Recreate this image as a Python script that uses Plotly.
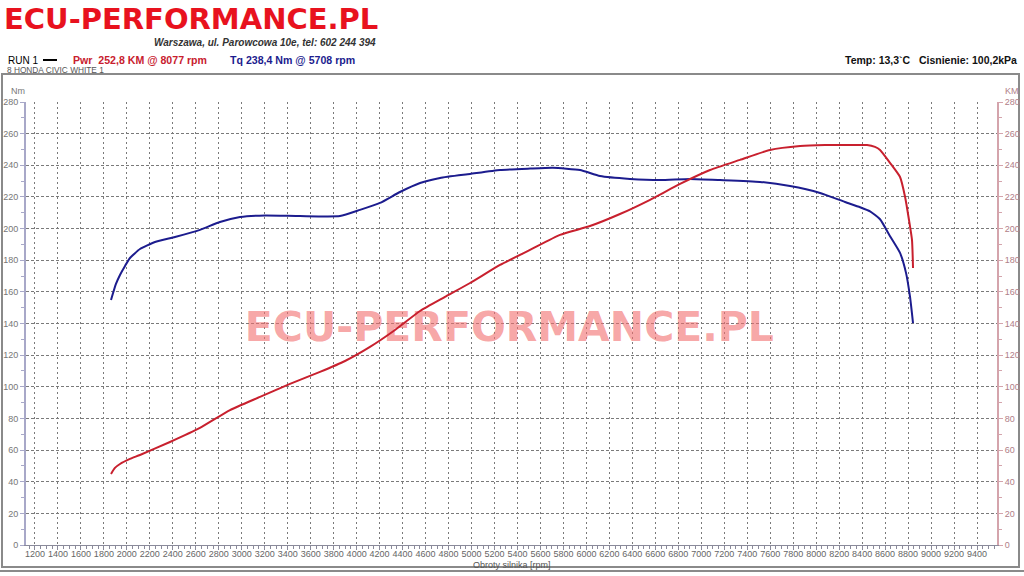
import plotly.graph_objects as go

# ---------------- data ----------------
tq_rpm = [1862, 1905, 1940, 1984, 2027, 2114, 2245, 2419, 2636, 2810, 2985, 3202, 3507, 3855,
          4029, 4203, 4377, 4552, 4726, 4987, 5248, 5509, 5708, 5944, 6118, 6379, 6641, 6902,
          7163, 7511, 7772, 8034, 8251, 8382, 8469, 8556, 8643, 8730, 8782, 8817, 8843]
tq_nm = [154.9, 165.0, 170.7, 176.4, 181.4, 187.1, 191.5, 194.7, 199.2, 204.2, 207.3, 208.3, 207.9, 207.9,
         211.8, 216.2, 223.1, 228.8, 232.0, 234.5, 237.0, 237.9, 238.4, 237.0, 233.2, 231.4, 230.7, 231.4,
         230.7, 229.5, 226.9, 222.5, 216.8, 213.5, 210.9, 205.9, 195.2, 184.6, 172.0, 156.8, 140.3]

pwr_rpm = [1862, 1896, 1940, 2027, 2114, 2375, 2636, 2898, 3159, 3420, 3681, 3899, 4116, 4334,
           4552, 4769, 4987, 5248, 5509, 5770, 6031, 6292, 6554, 6815, 7076, 7337, 7598, 7860,
           8077, 8208, 8443, 8512, 8556, 8643, 8730, 8774, 8808, 8834, 8843]
pwr_km = [44.9, 48.7, 51.2, 54.4, 56.9, 65.1, 74.0, 85.3, 93.6, 101.8, 109.4, 116.3, 125.2, 135.9,
          147.9, 156.8, 165.6, 177.0, 186.5, 196.0, 201.6, 209.2, 218.2, 228.2, 237.0, 243.4, 249.7, 252.2,
          252.8, 252.8, 252.8, 251.6, 249.7, 241.5, 232.6, 220.0, 205.4, 192.8, 175.1]

x_ticks = list(range(1200, 9401, 200))
y_ticks = list(range(0, 281, 20))

logo_text = "ECU-PERFORMANCE.PL"
address_text = "Warszawa, ul. Parowcowa 10e, tel: 602 244 394"
run_text = "RUN 1"
pwr_text = "Pwr  252,8 KM @ 8077 rpm"
tq_text = "Tq 238,4 Nm @ 5708 rpm"
car_text = "8 HONDA CIVIC WHITE 1"
cond_text = "Temp: 13,3`C   Cisnienie: 100,2kPa"
x_title = "Obroty silnika [rpm]"

# ---------------- layout geometry ----------------
W, H = 1024, 576
L, R, T, B = 26, 997, 102, 545


def px(x):
    return (x - L) / (R - L)


def py(y):
    return (B - y) / (B - T)


BLUE = "#1c1c8e"
RED = "#c8202e"
NARROW = "Liberation Sans Narrow, Liberation Sans"

fig = go.Figure()

# watermark (drawn first so curves go over it)
fig.add_trace(go.Scatter(
    x=[5330], y=[135.5], mode="text", text=[logo_text],
    textfont=dict(family="DejaVu Sans", size=41, color="rgba(242,110,110,0.62)", weight="bold"),
    hoverinfo="skip", showlegend=False))

fig.add_trace(go.Scatter(
    x=tq_rpm, y=tq_nm, mode="lines", line=dict(color=BLUE, width=2, shape="spline", smoothing=0.5),
    showlegend=False, name="Tq"))
fig.add_trace(go.Scatter(
    x=pwr_rpm, y=pwr_km, mode="lines", line=dict(color=RED, width=2, shape="spline", smoothing=0.5),
    showlegend=False, name="Pwr", yaxis="y2"))

grid_col = "#7a7a7a"
fig.update_layout(
    width=W, height=H, autosize=False,
    margin=dict(l=L, r=W - R, t=T, b=H - B, pad=0, autoexpand=False),
    paper_bgcolor="white", plot_bgcolor="white",
    font=dict(family="Liberation Sans", size=10, color="#666"),
    xaxis=dict(
        range=[1122, 9574], tickmode="array", tickvals=x_ticks, tickangle=0, automargin=False,
        showgrid=True, gridcolor=grid_col, griddash="2px,3px", gridwidth=1,
        showline=True, linecolor="#8a8a9a", linewidth=1,
        ticks="outside", ticklen=4, tickcolor="#8a8a9a", ticklabelstandoff=-4,
        minor=dict(dtick=50, tick0=1200, ticks="outside", ticklen=3, tickcolor="#8a8a9a", showgrid=False),
        tickfont=dict(family=NARROW, size=9, color="#666"),
        zeroline=False, fixedrange=True),
    yaxis=dict(
        range=[0, 280], tickmode="array", tickvals=y_ticks, automargin=False,
        showgrid=True, gridcolor=grid_col, griddash="3px,2px", gridwidth=1,
        showline=True, linecolor="#a8a8c8", linewidth=2,
        ticks="outside", ticklen=4, tickcolor="#a8a8c8",
        minor=dict(dtick=10, ticks="outside", ticklen=3, tickcolor="#a8a8c8", showgrid=False),
        tickfont=dict(family=NARROW, size=9, color="#777"),
        zeroline=False, fixedrange=True),
    yaxis2=dict(
        range=[0, 280], overlaying="y", side="right", tickmode="array", tickvals=y_ticks, automargin=False,
        showgrid=False, showline=True, linecolor="#d4a4ac", linewidth=2,
        ticks="outside", ticklen=4, tickcolor="#d4a4ac",
        minor=dict(dtick=10, ticks="outside", ticklen=3, tickcolor="#d4a4ac", showgrid=False),
        tickfont=dict(family=NARROW, size=9, color="#b08088"),
        zeroline=False, fixedrange=True),
)


def ann(text, x, y, xanchor="left", yanchor="middle", size=10, color="#000", family="Liberation Sans"):
    fig.add_annotation(text=text, x=px(x), y=py(y), xref="paper", yref="paper",
                       xanchor=xanchor, yanchor=yanchor, showarrow=False,
                       font=dict(size=size, color=color, family=family))


ann("<b>" + logo_text + "</b>", 2, 19, size=29, color="#e8121e", family="DejaVu Sans")
ann("<b><i>" + address_text + "</i></b>", 378, 42, xanchor="right", size=10, color="#333")
ann(run_text, 6, 60, size=10, color="#000")
ann("<b>" + pwr_text + "</b>", 71, 60, size=10.6, color=RED)
ann("<b>" + tq_text + "</b>", 228, 60, size=10.6, color=BLUE)
ann(car_text, 5, 70, size=8.3, color="#555")
ann("<b>" + cond_text + "</b>", 1019, 60, xanchor="right", size=10.5, color="#111")
ann("Nm", 9, 91, size=9, color="#777", family=NARROW)
ann("KM", 1003, 91, size=9, color="#b08088", family=NARROW)
ann(x_title, 512, 565, xanchor="center", size=9, color="#555", family=NARROW)

# legend line segment in header
fig.add_shape(type="line", xref="paper", yref="paper", x0=px(43), x1=px(57), y0=py(60), y1=py(60),
              line=dict(color="#000", width=2))
# panel frame
fig.add_shape(type="rect", xref="paper", yref="paper", x0=px(2), x1=px(1019), y0=py(74), y1=py(567),
              line=dict(color="#8a8a8a", width=2), layer="below")
fig.add_shape(type="line", xref="paper", yref="paper", x0=px(0), x1=px(1024), y0=py(571), y1=py(571),
              line=dict(color="#8a8a8a", width=2))

fig.write_html("out.html", config={"displayModeBar": False},
               post_script="document.body.style.margin='0';document.body.style.overflow='hidden';")
